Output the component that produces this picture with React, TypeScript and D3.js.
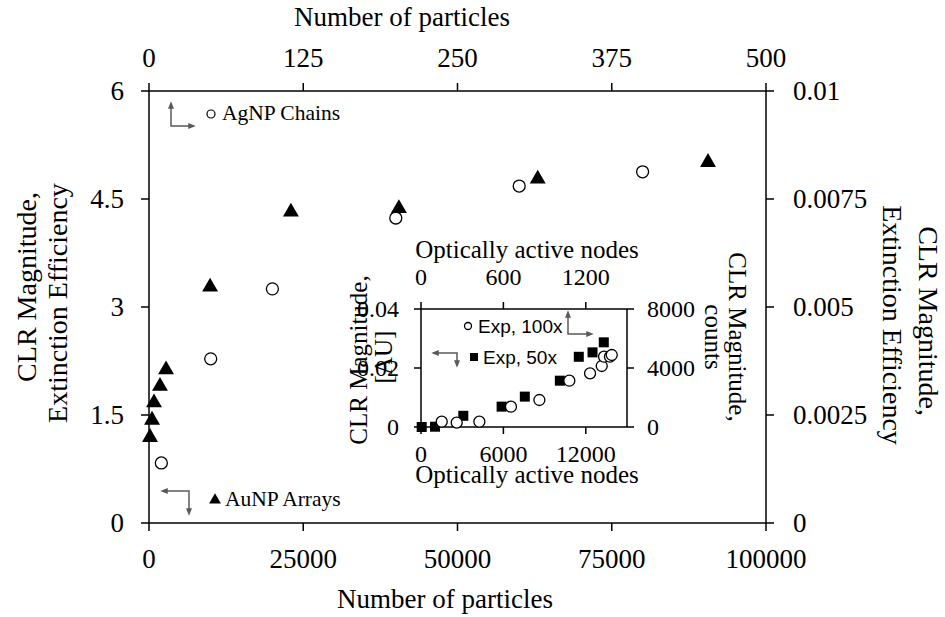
import React from "react";
import * as d3 from "d3";

// ---- Main plot data ----
// AuNP Arrays (bottom x: number of particles, left y: CLR magnitude / extinction efficiency)
const auParticles = [160, 490, 810, 1780, 2760, 9900, 23000, 40500, 63000, 90600];
const auValue = [1.19, 1.43, 1.67, 1.9, 2.13, 3.28, 4.32, 4.37, 4.78, 5.01];
// AgNP Chains (top x: number of particles, right y)
const agParticles = [10, 50, 100, 200, 300, 400];
const agValue = [0.00139, 0.0038, 0.00542, 0.00706, 0.0078, 0.00813];

// ---- Inset data ----
// Exp, 50x (bottom x: optically active nodes, left y: CLR magnitude [AU])
const exp50Nodes = [50, 1020, 3080, 5870, 7560, 10110, 11490, 12490, 13310];
const exp50Value = [0, 0.0001, 0.0038, 0.0069, 0.0103, 0.0157, 0.0238, 0.0253, 0.0287];
// Exp, 100x (top x: optically active nodes, right y: counts)
const exp100Nodes = [151, 260, 425, 655, 862, 1080, 1231, 1316, 1333, 1376, 1389];
const exp100Counts = [359, 292, 359, 1376, 1830, 3139, 3640, 4135, 4766, 4766, 4881];

// ---- Ticks ----
const bottomTicks = [0, 25000, 50000, 75000, 100000];
const bottomLabels = ["0", "25000", "50000", "75000", "100000"];
const topTicks = [0, 125, 250, 375, 500];
const topLabels = ["0", "125", "250", "375", "500"];
const leftTicks = [0, 1.5, 3, 4.5, 6];
const leftLabels = ["0", "1.5", "3", "4.5", "6"];
const rightTicks = [0, 0.0025, 0.005, 0.0075, 0.01];
const rightLabels = ["0", "0.0025", "0.005", "0.0075", "0.01"];

const iBottomTicks = [0, 6000, 12000];
const iBottomLabels = ["0", "6000", "12000"];
const iTopTicks = [0, 600, 1200];
const iTopLabels = ["0", "600", "1200"];
const iLeftTicks = [0, 0.02, 0.04];
const iLeftLabels = ["0", "0.02", "0.04"];
const iRightTicks = [0, 4000, 8000];
const iRightLabels = ["0", "4000", "8000"];

const SERIF = "'Liberation Serif', 'Times New Roman', serif";
const SANS = "'Liberation Sans', Arial, sans-serif";
const TICK_FS = 27;
const TITLE_FS = 27;
const ROT_FS = 28;
const INSET_FS = 25;
const INSET_TICK_FS = 24;

export default function App() {
  const W = 945, H = 617;
  const L = 149, R = 766, T = 91, B = 523;
  const xB = d3.scaleLinear().domain([0, 100000]).range([L, R]);
  const xT = d3.scaleLinear().domain([0, 500]).range([L, R]);
  const yL = d3.scaleLinear().domain([0, 6]).range([B, T]);
  const yR = d3.scaleLinear().domain([0, 0.01]).range([B, T]);

  const iL = 421, iR = 627, iT = 309, iB = 427;
  const ixB = d3.scaleLinear().domain([0, 15000]).range([iL, iR]);
  const ixT = d3.scaleLinear().domain([0, 1500]).range([iL, iR]);
  const iyL = d3.scaleLinear().domain([0, 0.04]).range([iB, iT]);
  const iyR = d3.scaleLinear().domain([0, 8000]).range([iB, iT]);

  const tri = d3.symbol().type(d3.symbolTriangle).size(110)();
  const smallTri = d3.symbol().type(d3.symbolTriangle).size(60)();
  const tk = 8;
  const itk = 7;
  const axisStroke = { stroke: "#000", strokeWidth: 1.5 };
  const arrowColor = "#595959";

  return (
    <svg width={W} height={H} style={{ position: "absolute", left: 0, top: 0, background: "#fff" }}>
      <defs>
        <marker id="ah" viewBox="0 0 10 10" refX="5" refY="5" markerWidth="5" markerHeight="5" orient="auto-start-reverse">
          <path d="M0,1 L10,5 L0,9 z" fill={arrowColor} />
        </marker>
      </defs>
      <rect x={0} y={0} width={W} height={H} fill="#fff" />

      {/* ===== Main plot ===== */}
      <g fontFamily={SERIF} fontSize={TICK_FS} fill="#000">
        <line x1={L} x2={R} y1={B} y2={B} {...axisStroke} />
        <line x1={L} x2={R} y1={T} y2={T} {...axisStroke} />
        <line x1={L} x2={L} y1={T} y2={B} {...axisStroke} />
        <line x1={R} x2={R} y1={T} y2={B} {...axisStroke} />

        {bottomTicks.map((t, i) => (
          <g key={"b" + i}>
            <line x1={xB(t)} x2={xB(t)} y1={B} y2={B + tk} {...axisStroke} />
            <text x={xB(t)} y={568} textAnchor="middle">{bottomLabels[i]}</text>
          </g>
        ))}
        {topTicks.map((t, i) => (
          <g key={"t" + i}>
            <line x1={xT(t)} x2={xT(t)} y1={T} y2={T - tk} {...axisStroke} />
            <text x={xT(t)} y={67} textAnchor="middle">{topLabels[i]}</text>
          </g>
        ))}
        {leftTicks.map((t, i) => (
          <g key={"l" + i}>
            <line x1={L - tk} x2={L} y1={yL(t)} y2={yL(t)} {...axisStroke} />
            <text x={124} y={yL(t)} dy="0.34em" textAnchor="end">{leftLabels[i]}</text>
          </g>
        ))}
        {rightTicks.map((t, i) => (
          <g key={"r" + i}>
            <line x1={R} x2={R + tk} y1={yR(t)} y2={yR(t)} {...axisStroke} />
            <text x={793} y={yR(t)} dy="0.34em" textAnchor="start">{rightLabels[i]}</text>
          </g>
        ))}

        {/* axis titles */}
        <text x={445} y={608} fontSize={TITLE_FS} textAnchor="middle">Number of particles</text>
        <text x={402} y={26} fontSize={TITLE_FS} textAnchor="middle">Number of particles</text>
        <text transform={`translate(36,287) rotate(-90)`} fontSize={ROT_FS} textAnchor="middle">CLR Magnitude,</text>
        <text transform={`translate(67,303) rotate(-90)`} fontSize={ROT_FS} textAnchor="middle">Extinction Efficiency</text>
        <text transform={`translate(919,321) rotate(90)`} fontSize={ROT_FS} textAnchor="middle">CLR Magnitude,</text>
        <text transform={`translate(883,325) rotate(90)`} fontSize={ROT_FS} textAnchor="middle">Extinction Efficiency</text>

        {agParticles.map((n, i) => (
          <circle key={"ag" + i} cx={xT(n)} cy={yR(agValue[i])} r={6} fill="#fff" stroke="#000" strokeWidth={1.3} />
        ))}
        {auParticles.map((n, i) => (
          <path key={"au" + i} d={tri} transform={`translate(${xB(n)},${yL(auValue[i])})`} fill="#000" />
        ))}

        {/* legends */}
        <polyline points="171,105 171,126 192,126" fill="none" stroke={arrowColor} strokeWidth={1.5}
          markerStart="url(#ah)" markerEnd="url(#ah)" />
        <circle cx={211} cy={114} r={4} fill="#fff" stroke="#000" strokeWidth={1.2} />
        <text x={222} y={120} fontSize={21.5}>AgNP Chains</text>

        <polyline points="164,491 189,491 189,512" fill="none" stroke={arrowColor} strokeWidth={1.5}
          markerStart="url(#ah)" markerEnd="url(#ah)" />
        <path d={smallTri} transform="translate(215,500)" fill="#000" />
        <text x={225} y={506} fontSize={21.5}>AuNP Arrays</text>
      </g>

      {/* ===== Inset ===== */}
      <g fontFamily={SERIF} fontSize={INSET_TICK_FS} fill="#000">
        <rect x={iL} y={iT} width={iR - iL} height={iB - iT} fill="#fff" />
        <line x1={iL} x2={iR} y1={iB} y2={iB} {...axisStroke} />
        <line x1={iL} x2={iR} y1={iT} y2={iT} {...axisStroke} />
        <line x1={iL} x2={iL} y1={iT} y2={iB} {...axisStroke} />
        <line x1={iR} x2={iR} y1={iT} y2={iB} {...axisStroke} />

        {iBottomTicks.map((t, i) => (
          <g key={"ib" + i}>
            <line x1={ixB(t)} x2={ixB(t)} y1={iB} y2={iB + itk} {...axisStroke} />
            <text x={ixB(t)} y={462} textAnchor="middle">{iBottomLabels[i]}</text>
          </g>
        ))}
        {iTopTicks.map((t, i) => (
          <g key={"it" + i}>
            <line x1={ixT(t)} x2={ixT(t)} y1={iT} y2={iT - itk} {...axisStroke} />
            <text x={ixT(t)} y={285} textAnchor="middle">{iTopLabels[i]}</text>
          </g>
        ))}
        {iLeftTicks.map((t, i) => (
          <g key={"il" + i}>
            <line x1={iL - itk} x2={iL} y1={iyL(t)} y2={iyL(t)} {...axisStroke} />
            <text x={399} y={iyL(t)} dy="0.34em" textAnchor="end">{iLeftLabels[i]}</text>
          </g>
        ))}
        {iRightTicks.map((t, i) => (
          <g key={"ir" + i}>
            <line x1={iR} x2={iR + itk} y1={iyR(t)} y2={iyR(t)} {...axisStroke} />
            <text x={647} y={iyR(t)} dy="0.34em" textAnchor="start">{iRightLabels[i]}</text>
          </g>
        ))}

        <text x={527} y={258} fontSize={INSET_FS} textAnchor="middle">Optically active nodes</text>
        <text x={527} y={483} fontSize={INSET_FS} textAnchor="middle">Optically active nodes</text>
        <text transform={`translate(367,360) rotate(-90)`} fontSize={INSET_FS} textAnchor="middle">CLR Magnitude,</text>
        <text transform={`translate(392,357) rotate(-90)`} fontSize={INSET_FS} textAnchor="middle">[AU]</text>
        <text transform={`translate(729,337) rotate(90)`} fontSize={INSET_FS} textAnchor="middle">CLR Magnitude,</text>
        <text transform={`translate(705,337) rotate(90)`} fontSize={INSET_FS} textAnchor="middle">counts</text>

        {exp50Nodes.map((n, i) => (
          <rect key={"s" + i} x={ixB(n) - 5} y={iyL(exp50Value[i]) - 5} width={10} height={10} fill="#000" />
        ))}
        {exp100Nodes.map((n, i) => (
          <circle key={"c" + i} cx={ixT(n)} cy={iyR(exp100Counts[i])} r={5.5} fill="#fff" stroke="#000" strokeWidth={1.3} />
        ))}

        <circle cx={468} cy={326} r={3.5} fill="#fff" stroke="#000" strokeWidth={1.3} />
        <text x={478} y={333} fontFamily={SANS} fontSize={19}>Exp, 100x</text>
        <polyline points="568,314 568,334 590,334" fill="none" stroke={arrowColor} strokeWidth={1.5}
          markerStart="url(#ah)" markerEnd="url(#ah)" />

        <rect x={470} y={353} width={8} height={8} fill="#000" />
        <text x={483} y={364} fontFamily={SANS} fontSize={19}>Exp, 50x</text>
        <polyline points="435,353 457,353 457,364" fill="none" stroke={arrowColor} strokeWidth={1.5}
          markerStart="url(#ah)" markerEnd="url(#ah)" />
      </g>
    </svg>
  );
}
